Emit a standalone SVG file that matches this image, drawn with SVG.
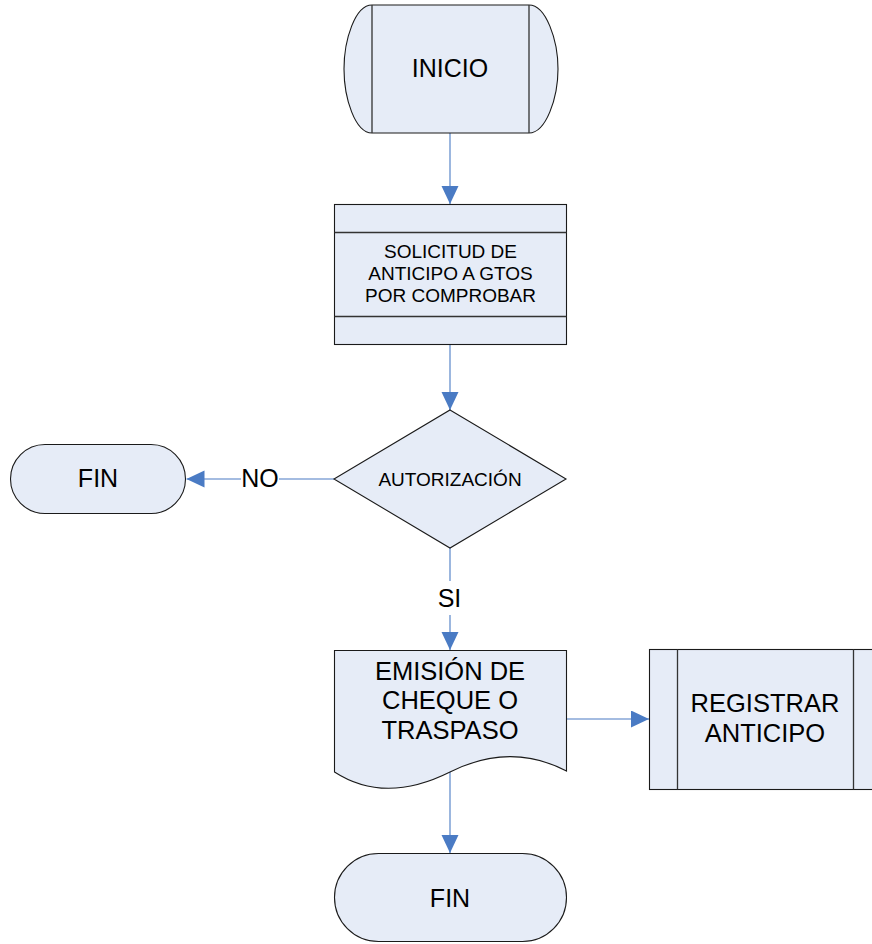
<svg xmlns="http://www.w3.org/2000/svg" width="872" height="944" viewBox="0 0 872 944">
  <defs>
    <marker id="arrow" markerUnits="userSpaceOnUse" markerWidth="18" markerHeight="18" refX="18" refY="8.5" orient="auto">
      <path d="M0,0 L18,8.5 L0,17 Z" fill="#4A7BC4"/>
    </marker>
    <style>
      .shape { fill: #E6ECF7; stroke: #1a1a1a; stroke-width: 1.1; }
      .inner { fill: none; stroke: #333; stroke-width: 1.3; }
      .conn { fill: none; stroke: #4A7BC4; stroke-width: 1.1; marker-end: url(#arrow); }
      .seg { fill: none; stroke: #4A7BC4; stroke-width: 1.1; }
      text { font-family: "Liberation Sans", Arial, sans-serif; fill: #000; text-anchor: middle; }
      .big { font-size: 25px; }
      .mid { font-size: 25.5px; }
      .small { font-size: 19px; }
    </style>
  </defs>

  <rect x="0" y="0" width="872" height="944" fill="#fff"/>

  <!-- connectors -->
  <g id="connectors">
    <path class="conn" d="M450,133 V204"/>
    <path class="conn" d="M450,344 V410"/>
    <path class="conn" d="M334,479 H279 M241,479 H186.5"/>
    <text class="big" x="260" y="487">NO</text>
    <path class="seg" d="M450,548 V581"/>
    <text class="big" x="449.5" y="607">SI</text>
    <path class="conn" d="M450,615 V650"/>
    <path class="conn" d="M567,719 H649"/>
    <path class="conn" d="M450,772 V853"/>
  </g>

  <!-- start terminator with side bars -->
  <g id="inicio">
    <path class="shape" d="M372,5 H529 C546,5 558,40 558,69 C558,98 546,133 529,133 H372 C355,133 344,98 344,69 C344,40 355,5 372,5 Z"/>
    <path class="inner" d="M372,5 V133 M529,5 V133"/>
    <text class="big" x="450" y="77">INICIO</text>
  </g>

  <!-- request process with top/bottom bands -->
  <g id="solicitud">
    <rect class="shape" x="334.5" y="204.5" width="232" height="140"/>
    <path class="inner" d="M334.5,232.5 H566.5 M334.5,316.5 H566.5" stroke="#1a1a1a"/>
    <text class="small" x="450.5" y="258">SOLICITUD DE</text>
    <text class="small" x="450.5" y="280">ANTICIPO A GTOS</text>
    <text class="small" x="450.5" y="302">POR COMPROBAR</text>
  </g>

  <!-- authorization decision -->
  <g id="autorizacion">
    <path class="shape" d="M450,410 L566,479 L450,548 L334,479 Z"/>
    <text class="small" x="450" y="486">AUTORIZACIÓN</text>
  </g>

  <!-- rejected branch end -->
  <g id="fin-no">
    <rect class="shape" x="10.5" y="444.5" width="175" height="69" rx="34.5"/>
    <text class="big" x="98" y="487">FIN</text>
  </g>

  <!-- document: cheque or transfer -->
  <g id="emision">
    <path class="shape" d="M334.5,650.5 H566.5 V771 C530,752 490,752 450,772 C410,792 370,795 334.5,772 Z"/>
    <text class="mid" x="450" y="679.5">EMISIÓN DE</text>
    <text class="mid" x="450" y="709">CHEQUE O</text>
    <text class="mid" x="450" y="738.5">TRASPASO</text>
  </g>

  <!-- predefined process: register advance -->
  <g id="registrar">
    <rect class="shape" x="649.5" y="649.5" width="232" height="140"/>
    <path class="inner" d="M677.5,649.5 V789.5 M853.5,649.5 V789.5" stroke="#1a1a1a"/>
    <text class="mid" x="765" y="712">REGISTRAR</text>
    <text class="mid" x="765" y="742">ANTICIPO</text>
  </g>

  <!-- final end -->
  <g id="fin">
    <rect class="shape" x="334.5" y="853.5" width="232" height="88" rx="44"/>
    <text class="big" x="450" y="907">FIN</text>
  </g>
</svg>
